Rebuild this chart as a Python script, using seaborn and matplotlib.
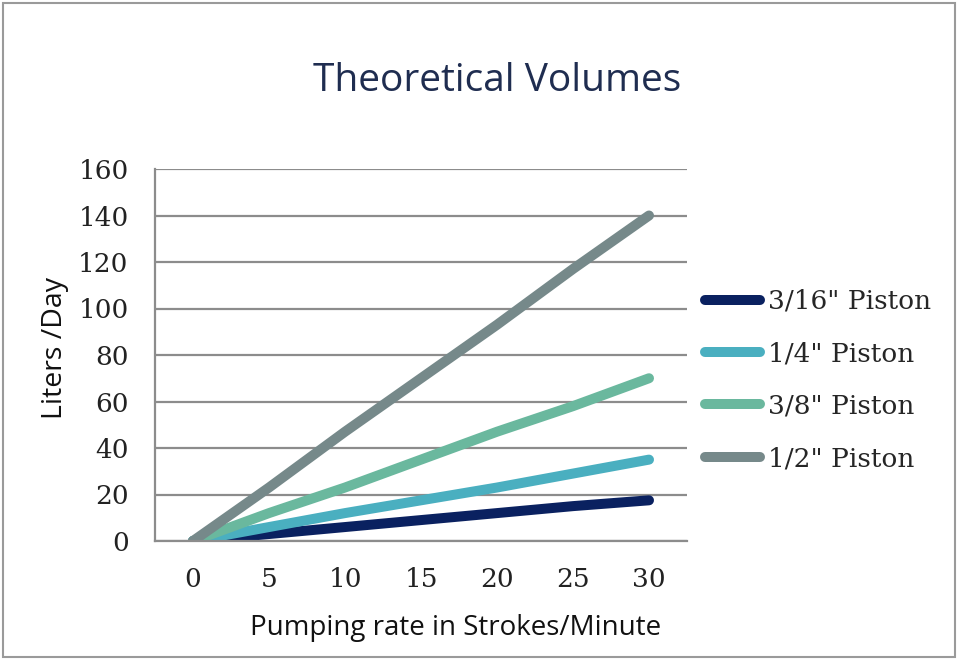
import numpy as np
import pandas as pd
import matplotlib
matplotlib.use('Agg')
import matplotlib.pyplot as plt
from matplotlib.patches import Rectangle
import seaborn as sns

# values
strokes = [0, 5, 10, 15, 20, 25, 30]
piston_3_16 = [0, 3, 6, 9, 12, 15, 17.5]
piston_1_4 = [0, 6, 12, 17.5, 23, 29, 35]
piston_3_8 = [0, 12, 23, 35, 47, 58, 70]
piston_1_2 = [0, 23, 47, 70, 93, 117, 140]
labels = ['3/16" Piston', '1/4" Piston', '3/8" Piston', '1/2" Piston']
y_ticks = [0, 20, 40, 60, 80, 100, 120, 140, 160]

COLORS = ['#0a2160', '#4aafc0', '#6ab89e', '#76898a']
GRID = '#8c8c8c'
SERIF = 'DejaVu Serif'
SANS = 'Open Sans'

df = pd.DataFrame({
    'strokes': strokes * 4,
    'volume': piston_3_16 + piston_1_4 + piston_3_8 + piston_1_2,
    'piston': [l for l in labels for _ in strokes],
})

sns.set_style('white')
fig = plt.figure(figsize=(9.58, 6.6), dpi=100)
ax = fig.add_axes([155 / 958, 1 - 541 / 660, 532 / 958, 372 / 660])

sns.lineplot(data=df, x='strokes', y='volume', hue='piston', hue_order=labels,
             palette=COLORS, linewidth=7.2, solid_capstyle='round', ax=ax,
             legend=True)

ax.set_xlim(-2.5, 32.5)
ax.set_ylim(0, 160)
ax.set_xticks(strokes)
ax.set_yticks(y_ticks)
ax.yaxis.grid(True, color=GRID, linewidth=1.6)
ax.set_axisbelow(True)
for side in ['top', 'right']:
    ax.spines[side].set_visible(False)
for side in ['left', 'bottom']:
    ax.spines[side].set_color(GRID)
    ax.spines[side].set_linewidth(1.6)
ax.tick_params(axis='both', length=0, labelsize=19, pad=19, labelcolor='#222222')
for lab in ax.get_xticklabels() + ax.get_yticklabels():
    lab.set_fontfamily(SERIF)

ax.set_xlabel('Pumping rate in Strokes/Minute', fontsize=20, family=SANS, color='#111111')
ax.set_ylabel('Liters /Day', fontsize=20.5, family=SANS, color='#111111')
# the reference puts both titles a little off the plot-area centre
ax.xaxis.set_label_coords((456 - 155) / 532, -(628 - 541) / 372)
ax.yaxis.set_label_coords(-(155 - 55) / 532, (541 - 348) / 372)
ax.xaxis.label.set_va('center')
ax.yaxis.label.set_va('center')

handles, lbls = ax.get_legend_handles_labels()
ax.get_legend().remove()
for h in handles:
    h.set_solid_capstyle('round')
fig.legend(handles, lbls, loc='center left', bbox_to_anchor=(705 / 958, 1 - 380 / 660),
           frameon=False, handlelength=2.08, handletextpad=0.3, labelspacing=1.04,
           borderpad=0, borderaxespad=0, prop={'family': SERIF, 'size': 19})

fig.text(497 / 958, 1 - 81 / 660, 'Theoretical Volumes', ha='center', va='center',
         fontsize=28, family=SANS, color='#1f2d50')

fig.patches.append(Rectangle((0.003, 0.004), 0.994, 0.992, transform=fig.transFigure,
                             fill=False, edgecolor='#9a9a9a', linewidth=1.5))

fig.savefig('out.png', dpi=100)
